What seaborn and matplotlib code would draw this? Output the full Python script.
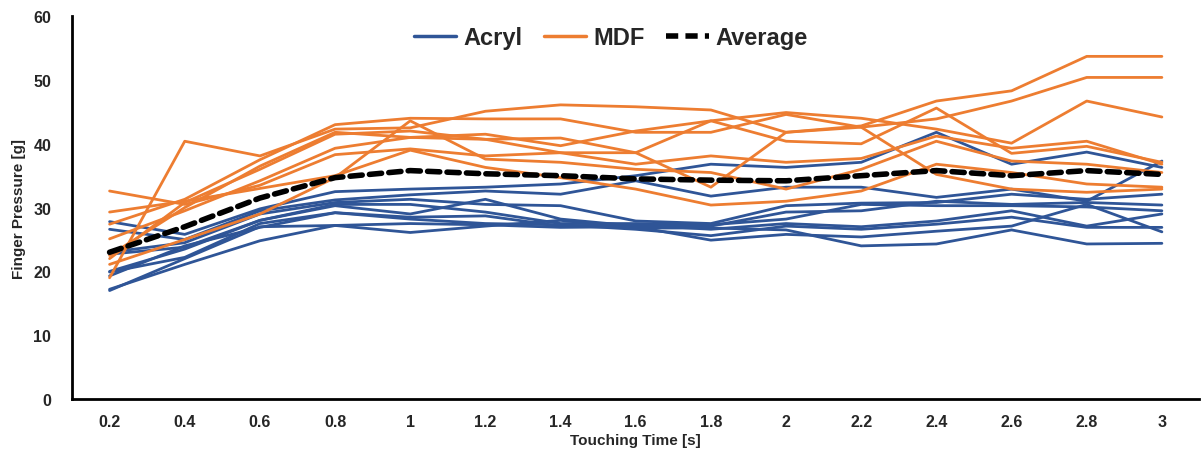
import numpy as np
import pandas as pd
import matplotlib
matplotlib.use("Agg")
import matplotlib.pyplot as plt
from matplotlib.lines import Line2D
import seaborn as sns

sns.set_style("white")
plt.rcParams["font.family"] = ["Liberation Sans", "DejaVu Sans"]

times = ["0.2", "0.4", "0.6", "0.8", "1", "1.2", "1.4", "1.6", "1.8", "2",
         "2.2", "2.4", "2.6", "2.8", "3"]

# Acryl trials
acryl = [
    [27.8, 25.8, 29.8, 32.5, 32.9, 33.2, 33.7, 35.0, 36.8, 36.3, 37.1, 41.8, 36.8, 38.7, 36.3],
    [26.6, 25.0, 29.5, 31.2, 32.0, 32.6, 32.1, 34.2, 31.8, 33.2, 33.2, 31.6, 32.9, 31.0, 37.3],
    [23.0, 24.5, 29.0, 30.8, 31.3, 30.5, 30.3, 27.9, 27.5, 30.3, 30.7, 30.8, 32.1, 31.3, 32.1],
    [22.7, 23.8, 28.0, 30.3, 29.0, 31.3, 28.2, 27.1, 27.1, 29.3, 29.5, 31.0, 30.5, 30.8, 30.4],
    [20.0, 23.5, 28.0, 30.5, 30.5, 29.3, 27.5, 27.5, 27.3, 28.2, 30.5, 30.3, 30.3, 30.1, 29.5],
    [19.9, 22.2, 27.5, 29.2, 28.5, 28.7, 27.1, 27.3, 26.6, 27.5, 27.0, 27.9, 29.5, 27.1, 29.0],
    [19.3, 24.0, 26.9, 29.2, 28.2, 27.5, 27.3, 26.6, 25.6, 27.1, 26.6, 27.4, 28.5, 26.9, 26.9],
    [17.2, 21.1, 24.8, 27.2, 27.5, 27.3, 26.9, 27.0, 24.9, 25.8, 25.4, 26.3, 27.1, 30.5, 26.2],
    [17.0, 22.0, 27.0, 27.2, 26.1, 27.1, 28.0, 26.8, 26.8, 26.5, 24.0, 24.3, 26.5, 24.3, 24.4],
]

# MDF trials
mdf = [
    [19.0, 40.4, 38.1, 42.3, 42.5, 45.1, 46.1, 45.8, 45.3, 41.8, 42.8, 46.7, 48.3, 53.7, 53.7],
    [27.4, 31.3, 37.5, 43.0, 44.0, 43.9, 43.9, 41.8, 41.8, 44.6, 42.6, 43.9, 46.7, 50.4, 50.4],
    [22.5, 30.0, 36.5, 41.8, 41.0, 40.7, 40.9, 38.6, 43.6, 44.9, 44.0, 42.3, 40.1, 46.7, 44.2],
    [25.1, 29.5, 34.2, 39.3, 41.0, 41.5, 39.7, 42.0, 43.6, 40.4, 40.0, 45.6, 38.5, 39.6, 37.1],
    [32.6, 30.5, 33.5, 38.3, 39.2, 38.1, 38.6, 36.8, 38.1, 37.1, 37.7, 41.2, 39.3, 40.4, 36.8],
    [21.1, 25.0, 29.0, 34.7, 43.6, 37.6, 37.1, 36.0, 35.5, 32.9, 36.0, 40.4, 37.3, 36.8, 35.5],
    [29.3, 31.0, 33.0, 35.0, 39.0, 36.3, 34.7, 32.9, 30.4, 31.0, 32.6, 36.8, 35.5, 33.7, 33.2],
    [22.0, 30.8, 36.0, 41.5, 42.0, 40.7, 38.6, 38.6, 33.2, 41.8, 42.6, 35.2, 32.9, 32.4, 32.9],
]

average = [23.0, 27.0, 31.5, 34.7, 35.8, 35.3, 35.0, 34.5, 34.3, 34.2,
           35.0, 35.8, 35.0, 35.8, 35.2]

blue = "#2F5597"
orange = "#ED7D31"

rows = []
for name, trials in [("Acryl", acryl), ("MDF", mdf)]:
    for k, vals in enumerate(trials):
        for i, v in enumerate(vals):
            rows.append({"material": name, "trial": f"{name}{k}", "pos": i, "value": v})
df = pd.DataFrame(rows)
avg_df = pd.DataFrame({"pos": range(len(times)), "value": average})

fig = plt.figure(figsize=(12.02, 4.52), dpi=100)
ax = fig.add_axes([0.0599, 0.115, 0.938, 0.847])

sns.lineplot(data=df, x="pos", y="value", hue="material", units="trial",
             estimator=None, palette={"Acryl": blue, "MDF": orange},
             linewidth=2.0, legend=False, ax=ax)
sns.lineplot(data=avg_df, x="pos", y="value", color="black", linewidth=4,
             dashes=False, ax=ax)
ax.lines[-1].set_linestyle((0, (2.2, 1.3)))
ax.lines[-1].set_dash_capstyle("round")

ax.set_xlim(-0.5, len(times) - 0.5)
ax.set_ylim(0, 60)
ax.set_yticks(range(0, 61, 10))
ax.set_xticks(range(len(times)))
ax.set_xticklabels(times)
ax.set_xticks(np.arange(-0.5, len(times), 1.0), minor=True)
ax.tick_params(axis="x", which="major", length=0, pad=11)
ax.tick_params(axis="x", which="minor", length=5, width=1.5, color="black", direction="out")
ax.tick_params(axis="y", length=5, width=1.5, color="black", direction="out", pad=10)

for lab in ax.get_xticklabels() + ax.get_yticklabels():
    lab.set_fontweight("bold")
    lab.set_fontsize(11.5)

sns.despine(ax=ax)
for s in ["left", "bottom"]:
    ax.spines[s].set_linewidth(2)
    ax.spines[s].set_color("black")

ax.set_xlabel("Touching Time [s]", fontsize=11, fontweight="bold", labelpad=3)
ax.set_ylabel("Finger Pressure [g]", fontsize=11, fontweight="bold", labelpad=5)

handles = [
    Line2D([], [], color=blue, linewidth=2.5),
    Line2D([], [], color=orange, linewidth=2.5),
    Line2D([], [], color="black", linewidth=4, linestyle=(0, (2.2, 1.3))),
]
leg = ax.legend(handles, ["Acryl", "MDF", "Average"], loc="upper center",
                bbox_to_anchor=(0.478, 1.03), ncol=3, frameon=False,
                handlelength=1.8, handletextpad=0.3, columnspacing=0.9,
                prop={"weight": "bold", "size": 17})

fig.savefig("out.png", dpi=100)
